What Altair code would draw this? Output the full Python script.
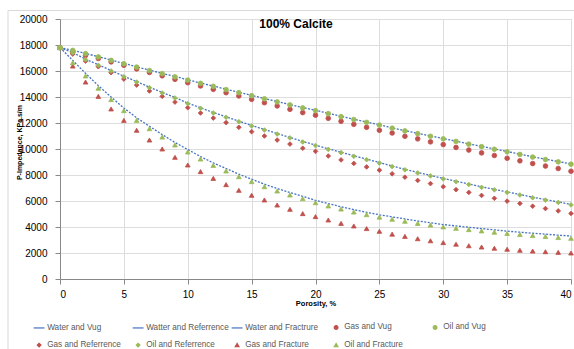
import altair as alt
import pandas as pd

FONT = "Liberation Sans"

porosity = list(range(0, 41))

water_vug = [17800, 17590, 17350, 17100, 16845, 16585, 16325, 16065, 15825, 15575,
             15325, 15075, 14845, 14595, 14355, 14125, 13885, 13645, 13415, 13185,
             12975, 12745, 12515, 12295, 12075, 11865, 11625, 11415, 11205, 11005,
             10805, 10605, 10395, 10205, 10005, 9805, 9605, 9405, 9215, 9035, 8855]
water_ref = [17800, 17420, 16910, 16480, 16040, 15600, 15190, 14760, 14350, 13960,
             13530, 13170, 12810, 12480, 12140, 11810, 11500, 11190, 10890, 10580,
             10300, 10010, 9760, 9480, 9220, 8960, 8690, 8440, 8200, 7970,
             7740, 7520, 7310, 7090, 6900, 6700, 6500, 6290, 6110, 5930, 5740]
water_frac = [17800, 16820, 15820, 14870, 14000, 13150, 12400, 11750, 11110, 10500,
              9960, 9420, 8930, 8500, 8060, 7680, 7290, 6960, 6650, 6360,
              6050, 5800, 5560, 5330, 5130, 4940, 4780, 4620, 4460, 4330,
              4190, 4080, 3980, 3880, 3780, 3680, 3600, 3520, 3450, 3370, 3310]

gas_vug = [17800, 17450, 17200, 16960, 16700, 16440, 16160, 15890, 15630, 15360,
           15100, 14850, 14590, 14330, 14080, 13820, 13560, 13310, 13050, 12800,
           12600, 12360, 12130, 11900, 11670, 11440, 11230, 10980, 10780, 10550,
           10340, 10120, 9920, 9700, 9500, 9290, 9090, 8880, 8690, 8500, 8290]
oil_vug = [17800, 17580, 17330, 17080, 16820, 16560, 16300, 16040, 15800, 15550,
           15300, 15050, 14820, 14570, 14330, 14100, 13860, 13620, 13390, 13160,
           12950, 12720, 12490, 12270, 12050, 11840, 11600, 11390, 11180, 10980,
           10780, 10580, 10370, 10180, 9980, 9780, 9580, 9380, 9190, 9010, 8830]
gas_ref = [17800, 17300, 16760, 16330, 15870, 15380, 14920, 14460, 14050, 13610,
           13180, 12770, 12380, 12030, 11670, 11330, 11000, 10690, 10380, 10060,
           9820, 9460, 9160, 8890, 8620, 8370, 8090, 7830, 7580, 7340,
           7100, 6870, 6660, 6430, 6210, 5990, 5810, 5600, 5420, 5240, 5040]
oil_ref = [17800, 17400, 16870, 16440, 16000, 15560, 15150, 14720, 14310, 13920,
           13490, 13130, 12770, 12440, 12100, 11770, 11460, 11150, 10850, 10540,
           10260, 9970, 9720, 9440, 9180, 8920, 8650, 8400, 8160, 7930,
           7700, 7480, 7270, 7050, 6860, 6660, 6460, 6250, 6070, 5890, 5700]
gas_frac = [17800, 16380, 15150, 14050, 13080, 12200, 11440, 10690, 10000, 9360,
            8770, 8260, 7740, 7260, 6820, 6440, 6080, 5690, 5360, 5030,
            4800, 4540, 4280, 4080, 3880, 3670, 3450, 3280, 3100, 2940,
            2800, 2680, 2560, 2460, 2370, 2290, 2210, 2150, 2100, 2050, 2000]
oil_frac = [17800, 16640, 15620, 14670, 13800, 12950, 12200, 11560, 10920, 10310,
            9770, 9230, 8740, 8310, 7870, 7490, 7100, 6770, 6460, 6180,
            5870, 5620, 5380, 5150, 4950, 4760, 4600, 4440, 4280, 4150,
            4010, 3900, 3800, 3700, 3600, 3500, 3420, 3340, 3270, 3190, 3130]

line_names = ["Water and Vug", "Watter and Referrence", "Water and Fractrure"]
point_names = ["Gas and Vug", "Oil and Vug", "Gas and Referrence",
               "Oil and Referrence", "Gas and Fracture", "Oil and Fracture"]
legend_order = line_names + point_names

series_colors = ["#4472C4", "#4472C4", "#4472C4",
                 "#C0504D", "#9BBB59", "#C0504D", "#9BBB59", "#C0504D", "#9BBB59"]
line_symbol = "M-2.9,0H2.9"
series_shapes = [line_symbol, line_symbol, line_symbol,
                 "circle", "circle", "diamond", "diamond",
                 "triangle-up", "triangle-up"]

x_ticks = [0, 5, 10, 15, 20, 25, 30, 35, 40]
y_ticks = list(range(0, 20001, 2000))
chart_title = "100% Calcite"


def table(pairs):
    rows = []
    for name, vals in pairs:
        for p, v in zip(porosity, vals):
            rows.append({"porosity": p, "impedance": v, "series": name})
    return pd.DataFrame(rows)


lines_df = table([("Water and Vug", water_vug),
                  ("Watter and Referrence", water_ref),
                  ("Water and Fractrure", water_frac)])
# gas markers first so the oil markers sit on top
points_df = table([("Gas and Vug", gas_vug),
                   ("Gas and Referrence", gas_ref),
                   ("Gas and Fracture", gas_frac),
                   ("Oil and Vug", oil_vug),
                   ("Oil and Referrence", oil_ref),
                   ("Oil and Fracture", oil_frac)])

legend = alt.Legend(
    title=None, orient="none", legendX=-25, legendY=304,
    direction="horizontal", columns=5, gridAlign="all",
    symbolSize=14, symbolStrokeWidth=1.2,
    labelFont=FONT, labelFontSize=8.2, labelColor="#595959",
    labelOffset=4, columnPadding=0, rowPadding=8, padding=0,
)

color = alt.Color("series:N", scale=alt.Scale(domain=legend_order, range=series_colors),
                  legend=legend)
fill = alt.Fill("series:N", scale=alt.Scale(domain=legend_order, range=series_colors),
                legend=legend)
shape = alt.Shape("series:N", scale=alt.Scale(domain=legend_order, range=series_shapes),
                  legend=legend)

x = alt.X("porosity:Q", scale=alt.Scale(domain=[0, 40], nice=False),
          axis=alt.Axis(values=x_ticks, title="Porosity, %", labelPadding=5,
                        titleX=255.5, titleY=24, titleAlign="center",
                        titleBaseline="middle", titleFontSize=7.5))
y = alt.Y("impedance:Q", scale=alt.Scale(domain=[0, 20000], nice=False),
          axis=alt.Axis(values=y_ticks, format="d", title="P-Impedance, KPa.s/m",
                        labelPadding=8, titleX=-41, titleY=123, titleAngle=270,
                        titleAlign="center", titleBaseline="middle", titleFontSize=7))

lines = alt.Chart(lines_df).mark_line(strokeDash=[2, 1.5], strokeWidth=1.3).encode(
    x=x, y=y, color=color, order="porosity:Q")

points = alt.Chart(points_df).mark_point(
    filled=False, opacity=1, fillOpacity=1, strokeWidth=0.8, size=22).encode(
    x=x, y=y, color=color, fill=fill, shape=shape)

title = alt.Chart(pd.DataFrame({"label": [chart_title]})).mark_text(
    font=FONT, fontSize=12, fontWeight="bold", color="#000000",
    align="center", baseline="alphabetic").encode(
    text="label:N", x=alt.value(236), y=alt.value(9))

frame = alt.Chart(pd.DataFrame({"k": [0]})).mark_rect(
    fill="transparent", stroke="#D9D9D9", strokeWidth=1).encode(
    x=alt.value(-52), x2=alt.value(560), y=alt.value(-8.5), y2=alt.value(360))

chart = alt.layer(frame, lines, points, title).properties(
    width=511, height=260,
    autosize=alt.AutoSizeParams(type="none"),
    padding={"left": 60, "top": 19, "right": 3, "bottom": 70},
).configure_view(stroke=None).configure_axis(
    grid=True, gridColor="#D9D9D9", gridWidth=1,
    domainColor="#BFBFBF", domainWidth=1.5, ticks=False,
    labelFont=FONT, labelFontSize=8.2, labelFontWeight="bold", labelColor="#595959",
    titleFont=FONT, titleFontWeight="bold", titleColor="#000000",
).configure(background="white")

chart.save("out.html", embed_options={"renderer": "svg", "actions": False})
